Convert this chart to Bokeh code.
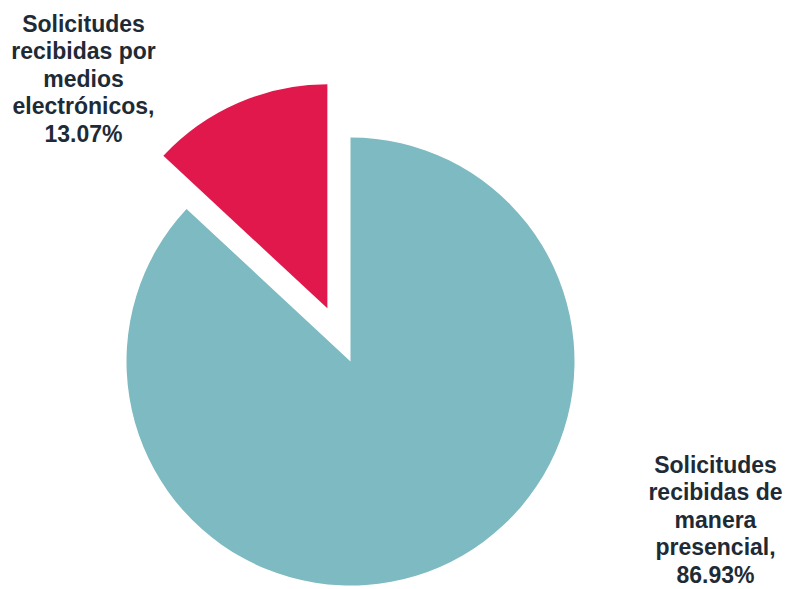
import math
from bokeh.plotting import figure
from bokeh.models import Range1d
from bokeh.core.properties import value
from bokeh.embed import file_html
from bokeh.resources import INLINE

# data
categories = ["Solicitudes recibidas de manera presencial", "Solicitudes recibidas por medios electrónicos"]
values = [86.93, 13.07]
label_lines = [
    ["Solicitudes", "recibidas de", "manera", "presencial,", "86.93%"],
    ["Solicitudes", "recibidas por", "medios", "electrónicos,", "13.07%"],
]
colors = ["#7dbac1", "#e0184c"]

W, H = 788, 589
p = figure(width=W, height=H, output_backend="svg", toolbar_location=None,
           x_range=Range1d(0, W), y_range=Range1d(0, H), min_border=0)
p.axis.visible = False
p.grid.visible = False
p.outline_line_color = None
p.background_fill_color = "white"

def Y(img_y):
    return H - img_y

cx, cy = 350, Y(361)
r = 224
explode = [0, 58]

total = sum(values)
red_ang = values[1] / total * 2 * math.pi
# red slice starts at top, counterclockwise
starts = [math.pi / 2 + red_ang, math.pi / 2]
ends = [math.pi / 2 + 2 * math.pi, math.pi / 2 + red_ang]

for i in range(2):
    mid = (starts[i] + ends[i]) / 2
    ox = cx + explode[i] * math.cos(mid)
    oy = cy + explode[i] * math.sin(mid)
    p.wedge(x=[ox], y=[oy], radius=r, start_angle=starts[i], end_angle=ends[i],
            fill_color=colors[i], line_color=None)

label_pos = [(715, 464, 27.5), (83, 23, 27.5)]
for (lx, ly0, dy), lines in zip(label_pos, label_lines):
    xs = [lx] * len(lines)
    ys = [Y(ly0 + dy * k) for k in range(len(lines))]
    p.text(x=xs, y=ys, text=lines, text_align="center", text_baseline="middle",
           text_font=value("Liberation Sans"), text_font_style="bold",
           text_font_size="23px", text_color="#1e2b36")

open("out.html", "w").write(file_html(p, INLINE))
